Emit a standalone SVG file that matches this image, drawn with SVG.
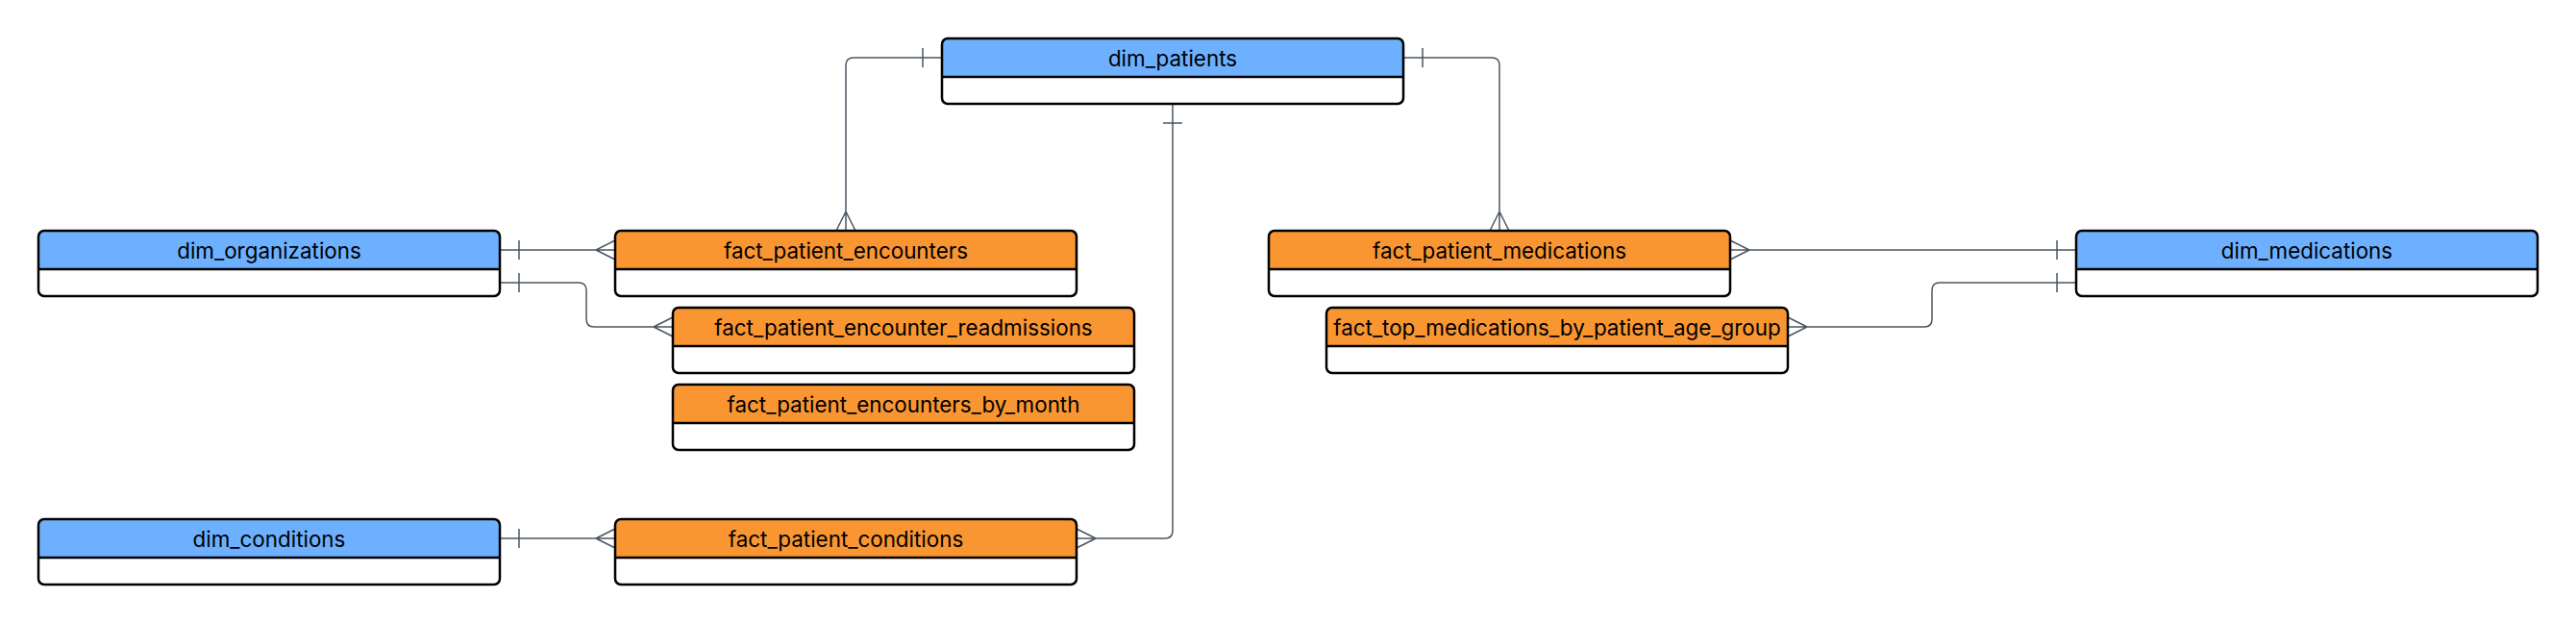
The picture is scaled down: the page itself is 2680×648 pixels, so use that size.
<svg xmlns="http://www.w3.org/2000/svg" width="2680" height="648" viewBox="0 0 2680 648">
<style>
.body{fill:none;stroke:#000000;stroke-width:2.5}
.hdim{fill:#6cb0ff}
.hfact{fill:#fa9632}
.div{stroke:#000000;stroke-width:2.5}
.lbl{font-family:Inter,"Liberation Sans",sans-serif;font-size:22.4px;fill:#000000;text-anchor:middle;dominant-baseline:central}
.conn{fill:none;stroke:#4b5563;stroke-width:1.5}
</style>
<defs>
<clipPath id="c"><rect x="0" y="0" width="480" height="68" rx="6"/></clipPath>
</defs>
<rect width="2680" height="648" fill="#ffffff"/>
<g id="connectors">
<path class="conn" d="M980,60 H888 Q880,60 880,68 V240 M960,50 V70 M880,220 L870,240 M880,220 L890,240"/>
<path class="conn" d="M1460,60 H1552 Q1560,60 1560,68 V240 M1480,50 V70 M1560,220 L1550,240 M1560,220 L1570,240"/>
<path class="conn" d="M1220,108 V552 Q1220,560 1212,560 H1120 M1210,128 H1230 M1140,560 L1120,550 M1140,560 L1120,570"/>
<path class="conn" d="M520,260 H640 M540,250 V270 M620,260 L640,250 M620,260 L640,270"/>
<path class="conn" d="M520,294 H602 Q610,294 610,302 V332 Q610,340 618,340 H700 M540,284 V304 M680,340 L700,330 M680,340 L700,350"/>
<path class="conn" d="M520,560 H640 M540,550 V570 M620,560 L640,550 M620,560 L640,570"/>
<path class="conn" d="M1800,260 H2160 M2140,250 V270 M1820,260 L1800,250 M1820,260 L1800,270"/>
<path class="conn" d="M1860,340 H2002 Q2010,340 2010,332 V302 Q2010,294 2018,294 H2160 M2140,284 V304 M1880,340 L1860,330 M1880,340 L1860,350"/>
</g>
<g id="dim_patients" transform="translate(980,40)">
<g clip-path="url(#c)"><rect class="hdim" width="480" height="40"/></g>
<rect class="body" width="480" height="68" rx="6"/>
<line class="div" x1="0" y1="40" x2="480" y2="40"/>
<text class="lbl" x="240" y="20">dim_patients</text>
</g>
<g id="dim_organizations" transform="translate(40,240)">
<g clip-path="url(#c)"><rect class="hdim" width="480" height="40"/></g>
<rect class="body" width="480" height="68" rx="6"/>
<line class="div" x1="0" y1="40" x2="480" y2="40"/>
<text class="lbl" x="240" y="20">dim_organizations</text>
</g>
<g id="fact_patient_encounters" transform="translate(640,240)">
<g clip-path="url(#c)"><rect class="hfact" width="480" height="40"/></g>
<rect class="body" width="480" height="68" rx="6"/>
<line class="div" x1="0" y1="40" x2="480" y2="40"/>
<text class="lbl" x="240" y="20">fact_patient_encounters</text>
</g>
<g id="fact_patient_encounter_readmissions" transform="translate(700,320)">
<g clip-path="url(#c)"><rect class="hfact" width="480" height="40"/></g>
<rect class="body" width="480" height="68" rx="6"/>
<line class="div" x1="0" y1="40" x2="480" y2="40"/>
<text class="lbl" x="240" y="20">fact_patient_encounter_readmissions</text>
</g>
<g id="fact_patient_encounters_by_month" transform="translate(700,400)">
<g clip-path="url(#c)"><rect class="hfact" width="480" height="40"/></g>
<rect class="body" width="480" height="68" rx="6"/>
<line class="div" x1="0" y1="40" x2="480" y2="40"/>
<text class="lbl" x="240" y="20">fact_patient_encounters_by_month</text>
</g>
<g id="dim_conditions" transform="translate(40,540)">
<g clip-path="url(#c)"><rect class="hdim" width="480" height="40"/></g>
<rect class="body" width="480" height="68" rx="6"/>
<line class="div" x1="0" y1="40" x2="480" y2="40"/>
<text class="lbl" x="240" y="20">dim_conditions</text>
</g>
<g id="fact_patient_conditions" transform="translate(640,540)">
<g clip-path="url(#c)"><rect class="hfact" width="480" height="40"/></g>
<rect class="body" width="480" height="68" rx="6"/>
<line class="div" x1="0" y1="40" x2="480" y2="40"/>
<text class="lbl" x="240" y="20">fact_patient_conditions</text>
</g>
<g id="fact_patient_medications" transform="translate(1320,240)">
<g clip-path="url(#c)"><rect class="hfact" width="480" height="40"/></g>
<rect class="body" width="480" height="68" rx="6"/>
<line class="div" x1="0" y1="40" x2="480" y2="40"/>
<text class="lbl" x="240" y="20">fact_patient_medications</text>
</g>
<g id="fact_top_medications_by_patient_age_group" transform="translate(1380,320)">
<g clip-path="url(#c)"><rect class="hfact" width="480" height="40"/></g>
<rect class="body" width="480" height="68" rx="6"/>
<line class="div" x1="0" y1="40" x2="480" y2="40"/>
<text class="lbl" x="240" y="20">fact_top_medications_by_patient_age_group</text>
</g>
<g id="dim_medications" transform="translate(2160,240)">
<g clip-path="url(#c)"><rect class="hdim" width="480" height="40"/></g>
<rect class="body" width="480" height="68" rx="6"/>
<line class="div" x1="0" y1="40" x2="480" y2="40"/>
<text class="lbl" x="240" y="20">dim_medications</text>
</g>
</svg>
